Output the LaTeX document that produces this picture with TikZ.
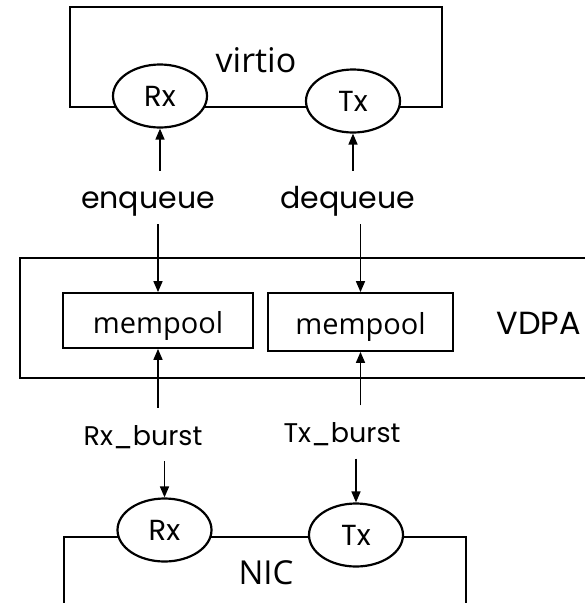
\documentclass[tikz,border=0pt]{standalone}
\usepackage{fontspec}
\setmainfont{Open Sans}
\newfontfamily\geo{Poppins}
\usetikzlibrary{shapes.geometric,arrows.meta}
\tikzset{
  frame/.style={line width=1.8pt},
  port/.style={ellipse,draw,line width=2.2pt,fill=white,minimum width=94pt,minimum height=63pt,inner sep=0pt,font=\geo\fontsize{29}{29}\selectfont},
  pool/.style={rectangle,draw,line width=1.8pt,inner sep=0pt,text height=25pt,text depth=0pt,font=\fontsize{29}{29}\selectfont},
  lbl/.style={inner sep=0pt,minimum height=53pt,text height=21pt,text depth=0pt,font=\geo\fontsize{30}{30}\selectfont},
  burst/.style={lbl,font=\geo\fontsize{27}{27}\selectfont},
  arr/.style={line width=1.6pt,-{Triangle[width=9pt,length=11pt]}},
}
\begin{document}
\begin{tikzpicture}[x=1pt,y=-1pt]
\useasboundingbox (0,0) rectangle (585,603);

% virtio block with its two queues
\draw[frame] (70,7) rectangle (442,107);
\node[font=\fontsize{34}{34}\selectfont] (virtio) at (256,60) {virtio};
\node[port] (vrx) at (160,96) {Rx};
\node[port] (vtx) at (353,101) {Tx};

% VDPA block (runs off the right edge)
\draw[frame] (590,258) -- (20,258) -- (20,378) -- (590,378);
\node[pool,minimum width=190pt,minimum height=55pt] (mp1) at (158,320.5) {mempool};
\node[pool,minimum width=185pt,minimum height=58pt] (mp2) at (360.5,322) {mempool};
\node[font=\geo\fontsize{32}{32}\selectfont,anchor=west] (vdpa) at (493,323) {VDPA};

% NIC block (runs off the bottom edge)
\draw[frame] (64,610) -- (64,537) -- (466,537) -- (466,610);
\node[font=\fontsize{33}{33}\selectfont] (nic) at (266,573) {NIC};
\node[port] (nrx) at (164.5,530) {Rx};
\node[port] (ntx) at (356,535) {Tx};

% operation labels
\node[lbl] (enq) at (148,197.5) {enqueue};
\node[lbl] (deq) at (348,197.5) {dequeue};
\node[burst] (rxb) at (143,434.5) {Rx\_burst};
\node[burst] (txb) at (342,432) {Tx\_burst};

% virtio <-> VDPA
\draw[arr] (enq.north -| vrx.south) -- (vrx.south);
\draw[arr] (enq.south -| mp1.north) -- (mp1.north);
\draw[arr] (deq.north -| vtx.south) -- (vtx.south);
\draw[arr] (deq.south -| mp2.north) -- (mp2.north);

% VDPA <-> NIC
\draw[arr] (rxb.north -| mp1.south) -- (mp1.south);
\draw[arr] (rxb.south -| nrx.north) -- (nrx.north);
\draw[arr] (txb.north -| mp2.south) -- (mp2.south);
\draw[arr] (txb.south -| ntx.north) -- (ntx.north);
\end{tikzpicture}
\end{document}
